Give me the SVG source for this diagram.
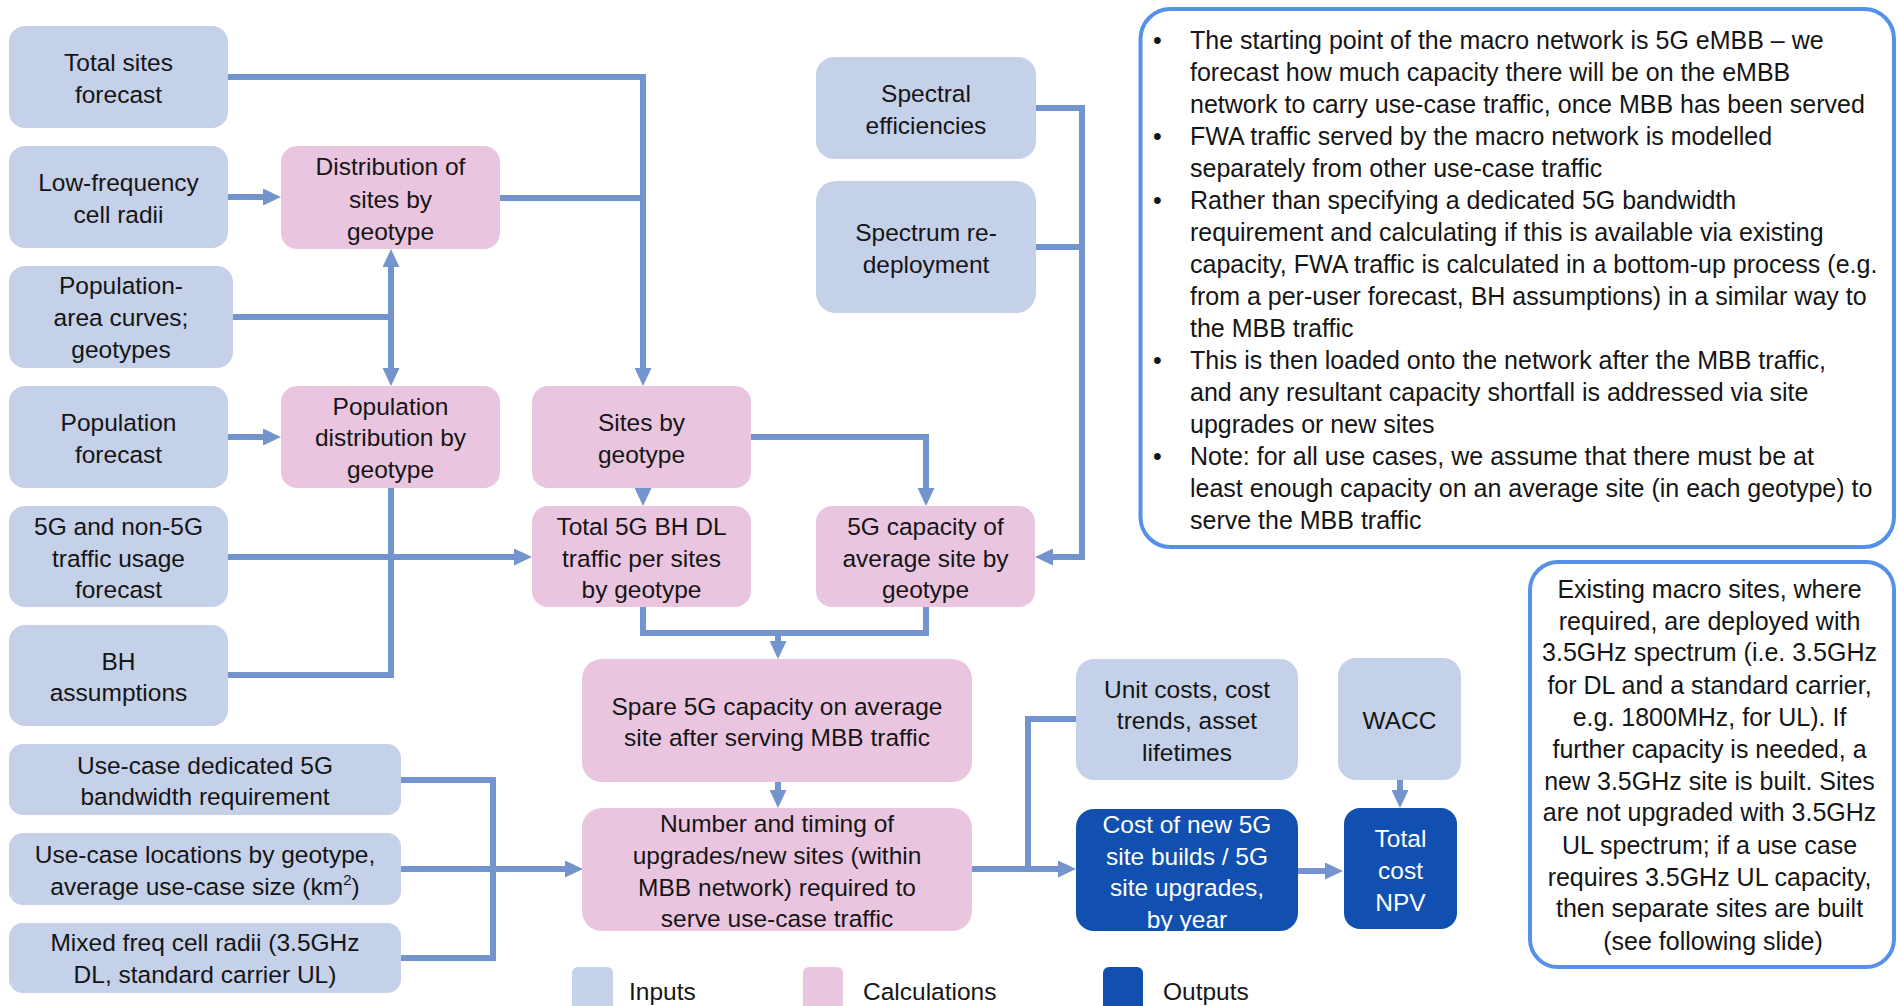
<svg xmlns="http://www.w3.org/2000/svg" width="1899" height="1006" viewBox="0 0 1899 1006">
  <defs>
    <style>
      .in { fill: #c5d0e9; }
      .calc { fill: #eac5e0; }
      .out { fill: #1150b0; }
      .t { font-family: "Liberation Sans", Arial, sans-serif; font-size: 24.5px; fill: #151515; text-anchor: middle; }
      .tw { fill: #ffffff; }
      .tl { font-family: "Liberation Sans", Arial, sans-serif; font-size: 24.5px; fill: #151515; }
      .nt { font-size: 25px; }
      .c { fill: none; stroke: #7494ce; stroke-width: 6; stroke-linejoin: miter; }
      .a { marker-end: url(#ah); }
      .note { fill: #ffffff; stroke: #5590ea; stroke-width: 4; }
    </style>
    <marker id="ah" viewBox="0 0 18 17" markerWidth="18" markerHeight="17" refX="1" refY="8.5" orient="auto" markerUnits="userSpaceOnUse">
      <path d="M0,0 L18,8.5 L0,17 z" fill="#7494ce"/>
    </marker>
  </defs>

  <rect width="1899" height="1006" fill="#ffffff"/>

  <!-- connectors -->
  <g id="connectors">
    <path class="c a" d="M228,77 H643 V369"/>
    <path class="c" d="M500,198 H643"/>
    <path class="c a" d="M228,197 H264"/>
    <path class="c a" d="M228,437 H264"/>
    <path class="c" d="M233,317 H391"/>
    <path class="c a" d="M391,317 V266"/>
    <path class="c a" d="M391,317 V369"/>
    <path class="c" d="M228,675 H391 V488"/>
    <path class="c a" d="M228,557 H515"/>
    <path class="c a" d="M643,486 V489"/>
    <path class="c a" d="M751,437 H926 V489"/>
    <path class="c a" d="M1036,108 H1082 V557 H1052"/>
    <path class="c" d="M1036,247 H1082"/>
    <path class="c" d="M643,607 V633 H926 V607"/>
    <path class="c a" d="M778,633 V642"/>
    <path class="c a" d="M778,782 V791"/>
    <path class="c" d="M401,780 H493 V958 H401"/>
    <path class="c a" d="M401,869 H566"/>
    <path class="c a" d="M972,869 H1059"/>
    <path class="c" d="M1076,719 H1028 V869"/>
    <path class="c a" d="M1400,780 V791"/>
    <path class="c a" d="M1298,871 H1326"/>
  </g>

  <!-- inputs -->
  <g id="total-sites-forecast">
    <rect class="in" x="9" y="26" width="219" height="102" rx="16"/>
    <text class="t"><tspan x="118.5" y="71">Total sites</tspan><tspan x="118.5" y="103">forecast</tspan></text>
  </g>
  <g id="low-frequency-cell-radii">
    <rect class="in" x="9" y="146" width="219" height="102" rx="16"/>
    <text class="t"><tspan x="118.5" y="191">Low-frequency</tspan><tspan x="118.5" y="223">cell radii</tspan></text>
  </g>
  <g id="population-area-curves">
    <rect class="in" x="9" y="266" width="224" height="102" rx="16"/>
    <text class="t"><tspan x="121" y="294">Population-</tspan><tspan x="121" y="326">area curves;</tspan><tspan x="121" y="358">geotypes</tspan></text>
  </g>
  <g id="population-forecast">
    <rect class="in" x="9" y="386" width="219" height="102" rx="16"/>
    <text class="t"><tspan x="118.5" y="431">Population</tspan><tspan x="118.5" y="463">forecast</tspan></text>
  </g>
  <g id="traffic-usage-forecast">
    <rect class="in" x="9" y="506" width="219" height="101" rx="16"/>
    <text class="t"><tspan x="118.5" y="535">5G and non-5G</tspan><tspan x="118.5" y="567">traffic usage</tspan><tspan x="118.5" y="598">forecast</tspan></text>
  </g>
  <g id="bh-assumptions">
    <rect class="in" x="9" y="625" width="219" height="101" rx="16"/>
    <text class="t"><tspan x="118.5" y="670">BH</tspan><tspan x="118.5" y="701">assumptions</tspan></text>
  </g>
  <g id="use-case-bandwidth">
    <rect class="in" x="9" y="744" width="392" height="71" rx="14"/>
    <text class="t"><tspan x="205" y="774">Use-case dedicated 5G</tspan><tspan x="205" y="805">bandwidth requirement</tspan></text>
  </g>
  <g id="use-case-locations">
    <rect class="in" x="9" y="833" width="392" height="72" rx="14"/>
    <text class="t"><tspan x="205" y="863">Use-case locations by geotype,</tspan><tspan x="205" y="895">average use-case size (km<tspan font-size="15" dy="-10">2</tspan><tspan dy="10">)</tspan></tspan></text>
  </g>
  <g id="mixed-freq-cell-radii">
    <rect class="in" x="9" y="923" width="392" height="70" rx="14"/>
    <text class="t"><tspan x="205" y="951">Mixed freq cell radii (3.5GHz</tspan><tspan x="205" y="983">DL, standard carrier UL)</tspan></text>
  </g>
  <g id="spectral-efficiencies">
    <rect class="in" x="816" y="57" width="220" height="102" rx="18"/>
    <text class="t"><tspan x="926" y="102">Spectral</tspan><tspan x="926" y="134">efficiencies</tspan></text>
  </g>
  <g id="spectrum-redeployment">
    <rect class="in" x="816" y="181" width="220" height="132" rx="20"/>
    <text class="t"><tspan x="926" y="241">Spectrum re-</tspan><tspan x="926" y="273">deployment</tspan></text>
  </g>
  <g id="unit-costs">
    <rect class="in" x="1076" y="659" width="222" height="121" rx="18"/>
    <text class="t"><tspan x="1187" y="698">Unit costs, cost</tspan><tspan x="1187" y="729">trends, asset</tspan><tspan x="1187" y="761">lifetimes</tspan></text>
  </g>
  <g id="wacc">
    <rect class="in" x="1338" y="658" width="123" height="122" rx="18"/>
    <text class="t"><tspan x="1399.5" y="729">WACC</tspan></text>
  </g>

  <!-- calculations -->
  <g id="distribution-of-sites">
    <rect class="calc" x="281" y="146" width="219" height="103" rx="16"/>
    <text class="t"><tspan x="390.5" y="175">Distribution of</tspan><tspan x="390.5" y="208">sites by</tspan><tspan x="390.5" y="240">geotype</tspan></text>
  </g>
  <g id="population-distribution">
    <rect class="calc" x="281" y="386" width="219" height="102" rx="16"/>
    <text class="t"><tspan x="390.5" y="415">Population</tspan><tspan x="390.5" y="446">distribution by</tspan><tspan x="390.5" y="478">geotype</tspan></text>
  </g>
  <g id="sites-by-geotype">
    <rect class="calc" x="532" y="386" width="219" height="102" rx="16"/>
    <text class="t"><tspan x="641.5" y="431">Sites by</tspan><tspan x="641.5" y="463">geotype</tspan></text>
  </g>
  <g id="total-bh-dl-traffic">
    <rect class="calc" x="532" y="506" width="219" height="101" rx="16"/>
    <text class="t"><tspan x="641.5" y="535">Total 5G BH DL</tspan><tspan x="641.5" y="567">traffic per sites</tspan><tspan x="641.5" y="598">by geotype</tspan></text>
  </g>
  <g id="capacity-of-average-site">
    <rect class="calc" x="816" y="506" width="219" height="101" rx="16"/>
    <text class="t"><tspan x="925.5" y="535">5G capacity of</tspan><tspan x="925.5" y="567">average site by</tspan><tspan x="925.5" y="598">geotype</tspan></text>
  </g>
  <g id="spare-capacity">
    <rect class="calc" x="582" y="659" width="390" height="123" rx="20"/>
    <text class="t"><tspan x="777" y="715">Spare 5G capacity on average</tspan><tspan x="777" y="746">site after serving MBB traffic</tspan></text>
  </g>
  <g id="upgrades-new-sites">
    <rect class="calc" x="582" y="808" width="390" height="123" rx="20"/>
    <text class="t"><tspan x="777" y="832">Number and timing of</tspan><tspan x="777" y="864">upgrades/new sites (within</tspan><tspan x="777" y="896">MBB network) required to</tspan><tspan x="777" y="927">serve use-case traffic</tspan></text>
  </g>

  <!-- outputs -->
  <g id="cost-of-new-sites">
    <rect class="out" x="1076" y="809" width="222" height="122" rx="18"/>
    <text class="t tw"><tspan x="1187" y="833">Cost of new 5G</tspan><tspan x="1187" y="865">site builds / 5G</tspan><tspan x="1187" y="896">site upgrades,</tspan><tspan x="1187" y="928">by year</tspan></text>
  </g>
  <g id="total-cost-npv">
    <rect class="out" x="1344" y="808" width="113" height="121" rx="16"/>
    <text class="t tw"><tspan x="1400.5" y="847">Total</tspan><tspan x="1400.5" y="879">cost</tspan><tspan x="1400.5" y="911">NPV</tspan></text>
  </g>

  <!-- notes -->
  <g id="notes-macro-network">
    <rect class="note" x="1140.5" y="9" width="753.5" height="538" rx="30"/>
    <g class="tl nt">
      <text x="1153" y="49">•</text>
      <text x="1190" y="49">The starting point of the macro network is 5G eMBB – we</text>
      <text x="1190" y="81">forecast how much capacity there will be on the eMBB</text>
      <text x="1190" y="113">network to carry use-case traffic, once MBB has been served</text>
      <text x="1153" y="145">•</text>
      <text x="1190" y="145">FWA traffic served by the macro network is modelled</text>
      <text x="1190" y="177">separately from other use-case traffic</text>
      <text x="1153" y="209">•</text>
      <text x="1190" y="209">Rather than specifying a dedicated 5G bandwidth</text>
      <text x="1190" y="241">requirement and calculating if this is available via existing</text>
      <text x="1190" y="273">capacity, FWA traffic is calculated in a bottom-up process (e.g.</text>
      <text x="1190" y="305">from a per-user forecast, BH assumptions) in a similar way to</text>
      <text x="1190" y="337">the MBB traffic</text>
      <text x="1153" y="369">•</text>
      <text x="1190" y="369">This is then loaded onto the network after the MBB traffic,</text>
      <text x="1190" y="401">and any resultant capacity shortfall is addressed via site</text>
      <text x="1190" y="433">upgrades or new sites</text>
      <text x="1153" y="465">•</text>
      <text x="1190" y="465">Note: for all use cases, we assume that there must be at</text>
      <text x="1190" y="497">least enough capacity on an average site (in each geotype) to</text>
      <text x="1190" y="529">serve the MBB traffic</text>
    </g>
  </g>
  <g id="notes-existing-sites">
    <rect class="note" x="1530" y="562" width="364" height="405" rx="28"/>
    <text class="t nt">
      <tspan x="1713" y="598">Existing macro sites, where</tspan>
      <tspan x="1713" y="630">required, are deployed with</tspan>
      <tspan x="1713" y="661">3.5GHz spectrum (i.e. 3.5GHz</tspan>
      <tspan x="1713" y="694">for DL and a standard carrier,</tspan>
      <tspan x="1713" y="726">e.g. 1800MHz, for UL). If</tspan>
      <tspan x="1713" y="758">further capacity is needed, a</tspan>
      <tspan x="1713" y="790">new 3.5GHz site is built. Sites</tspan>
      <tspan x="1713" y="821">are not upgraded with 3.5GHz</tspan>
      <tspan x="1713" y="854">UL spectrum; if a use case</tspan>
      <tspan x="1713" y="886">requires 3.5GHz UL capacity,</tspan>
      <tspan x="1713" y="917">then separate sites are built</tspan>
      <tspan x="1713" y="950">(see following slide)</tspan>
    </text>
  </g>

  <!-- legend -->
  <g id="legend">
    <rect class="in" x="572" y="967" width="41" height="50" rx="6"/>
    <text class="tl" x="629" y="1000">Inputs</text>
    <rect class="calc" x="803" y="967" width="40" height="50" rx="6"/>
    <text class="tl" x="863" y="1000">Calculations</text>
    <rect class="out" x="1103" y="967" width="40" height="50" rx="6"/>
    <text class="tl" x="1163" y="1000">Outputs</text>
  </g>
</svg>
